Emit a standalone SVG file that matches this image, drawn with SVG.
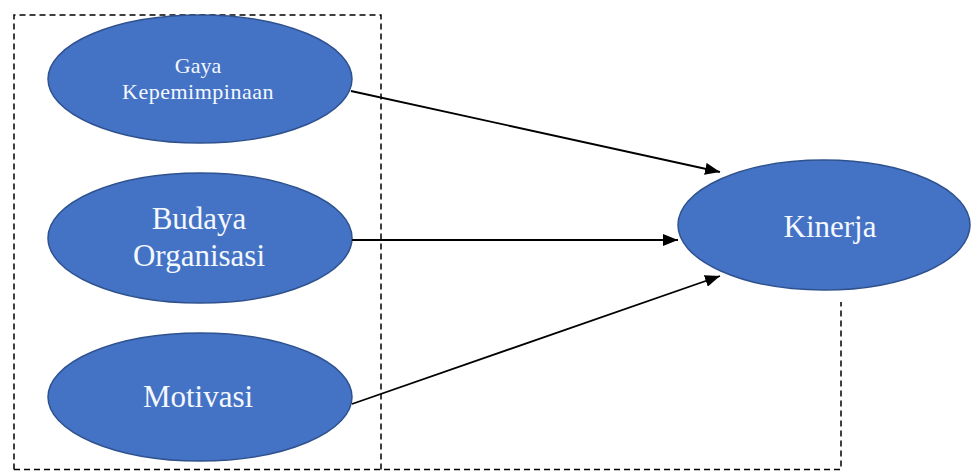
<svg xmlns="http://www.w3.org/2000/svg" width="971" height="471" viewBox="0 0 971 471">
<defs>
<marker id="arr" viewBox="0 0 15 12" refX="15" refY="6" markerWidth="15" markerHeight="12" markerUnits="userSpaceOnUse" orient="auto">
<path d="M0,0 L15,6 L0,12 Z" fill="#000"/>
</marker>
</defs>
<style>
.node{fill:#4472C4;stroke:#2F528F;stroke-width:1.5}
.lbl{fill:#F4F8FF;font-family:"Liberation Serif","Times New Roman",serif;text-anchor:middle}
.dash{fill:none;stroke:#000;stroke-width:1.5;stroke-dasharray:6 4}
.conn{stroke:#000;stroke-width:1.8;fill:none}
</style>
<rect width="971" height="471" fill="#fff"/>
<g id="frame">
<path class="dash" d="M14,469.5 L14,15 L381,15 L381,469.5"/>
<path class="dash" d="M14,469.5 L841,469.5 L841,302"/>
</g>
<g id="node-gaya">
<ellipse class="node" cx="200" cy="79" rx="152" ry="64"/>
<text class="lbl" x="198" y="73" font-size="22">Gaya</text>
<text class="lbl" x="198" y="99" font-size="22" letter-spacing="0.5">Kepemimpinaan</text>
</g>
<g id="node-budaya">
<ellipse class="node" cx="200" cy="238" rx="152" ry="65"/>
<text class="lbl" x="199" y="229" font-size="31">Budaya</text>
<text class="lbl" x="199" y="266" font-size="31">Organisasi</text>
</g>
<g id="node-motivasi">
<ellipse class="node" cx="200" cy="397" rx="152" ry="64"/>
<text class="lbl" x="198" y="407" font-size="31">Motivasi</text>
</g>
<g id="node-kinerja">
<ellipse class="node" cx="824" cy="225" rx="146" ry="65"/>
<text class="lbl" x="830" y="237" font-size="31">Kinerja</text>
</g>
<g id="connectors">
<line class="conn" x1="351" y1="91" x2="720" y2="172" marker-end="url(#arr)"/>
<line class="conn" x1="352" y1="240" x2="678" y2="240" marker-end="url(#arr)"/>
<line class="conn" x1="352" y1="404" x2="720" y2="276" marker-end="url(#arr)"/>
</g>
</svg>
